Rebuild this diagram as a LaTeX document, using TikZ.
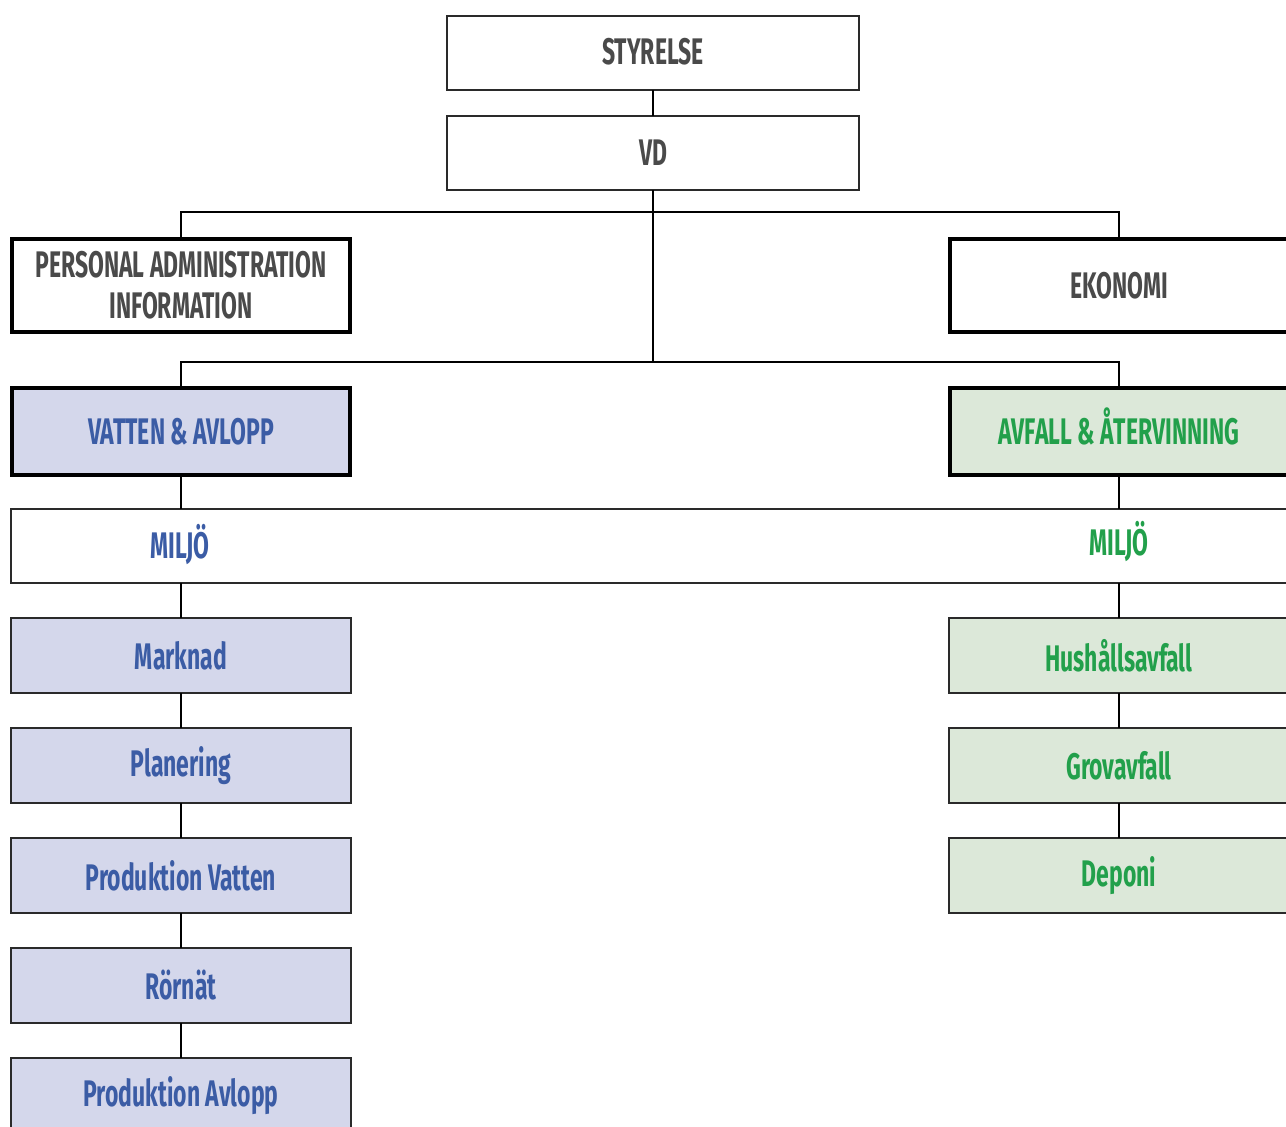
\documentclass[tikz,border=0pt]{standalone}
\usepackage{fontspec}
\setmainfont{Fira Sans}[FakeStretch=0.62]
\usetikzlibrary{positioning}
\definecolor{txtgray}{HTML}{4A4A4A}
\definecolor{txtblue}{HTML}{3B5CA5}
\definecolor{txtgreen}{HTML}{22A04B}
\definecolor{fillblue}{HTML}{D4D7EB}
\definecolor{fillgreen}{HTML}{DCE8D9}
\definecolor{edge}{HTML}{2A2A2A}
\tikzset{
  base/.style={draw=edge, line width=1.4pt, inner sep=0pt, outer sep=0pt, align=center,
    font=\fontsize{37}{41}\selectfont\bfseries},
  thinbox/.style={base, minimum width=412, minimum height=74, text=txtgray},
  headbox/.style={base, draw=black, line width=4pt, minimum width=338, minimum height=93, text=txtgray},
  unitblue/.style={base, draw=black, line width=4pt, minimum width=338, minimum height=87, fill=fillblue, text=txtblue},
  unitgreen/.style={base, draw=black, line width=4pt, minimum width=338, minimum height=87, fill=fillgreen, text=txtgreen},
  subblue/.style={base, minimum width=340, minimum height=75, fill=fillblue, text=txtblue},
  subgreen/.style={base, minimum width=340, minimum height=75, fill=fillgreen, text=txtgreen},
  lbl/.style={inner sep=0pt, font=\fontsize{37}{41}\selectfont\bfseries},
  conn/.style={draw=black, line width=1.4pt}
}
\begin{document}
\begin{tikzpicture}[x=1pt,y=-1pt]
\useasboundingbox (0,0) rectangle (1286,1127);
\clip (0,0) rectangle (1286,1127);
\node[thinbox] (sty) at (653,53) {\raisebox{3pt}{STYRELSE}};
\node[thinbox] (vd) at (653,153) {VD};
\node[headbox] (pai) at (181,285.5) {PERSONAL ADMINISTRATION\\INFORMATION};
\node[headbox] (eko) at (1119,285.5) {EKONOMI};
\node[unitblue] (va) at (181,431.5) {VATTEN \& AVLOPP};
\node[unitgreen] (af) at (1119,431.5) {\raisebox{1pt}{AVFALL \& \smash{Å}TERVINNING}};
\node[base, minimum width=1290, minimum height=74] (miljo) at (656,546) {};
\node[lbl, text=txtblue] (miljoL) at (180,545) {MILJÖ};
\node[lbl, text=txtgreen] (miljoR) at (1119,542) {MILJÖ};
\node[subblue] (mark) at (181,655.5) {Marknad};
\node[subblue] (plan) at (181,765.5) {Planering};
\node[subblue] (pv) at (181,875.5) {Produktion Vatten};
\node[subblue] (ror) at (181,985.5) {Rörnät};
\node[subblue] (pa) at (181,1095.5) {Produktion Avlopp};
\node[subgreen] (hus) at (1119,655.5) {Hushållsavfall};
\node[subgreen] (grov) at (1119,765.5) {Grovavfall};
\node[subgreen] (dep) at (1119,875.5) {Deponi};
\coordinate (j1) at (653,212);
\coordinate (j2) at (653,362);
\draw[conn] (sty.south) -- (vd.north);
\draw[conn] (vd.south) -- (j2);
\draw[conn] (pai.north) |- (j1) -| (eko.north);
\draw[conn] (va.north) |- (j2) -| (af.north);
\draw[conn] (va.south) -- (va.south |- miljo.north);
\draw[conn] (af.south) -- (af.south |- miljo.north);
\draw[conn] (mark.north |- miljo.south) -- (mark.north);
\draw[conn] (hus.north |- miljo.south) -- (hus.north);
\draw[conn] (mark) -- (plan);
\draw[conn] (plan) -- (pv);
\draw[conn] (pv) -- (ror);
\draw[conn] (ror) -- (pa);
\draw[conn] (hus) -- (grov);
\draw[conn] (grov) -- (dep);
\end{tikzpicture}
\end{document}
